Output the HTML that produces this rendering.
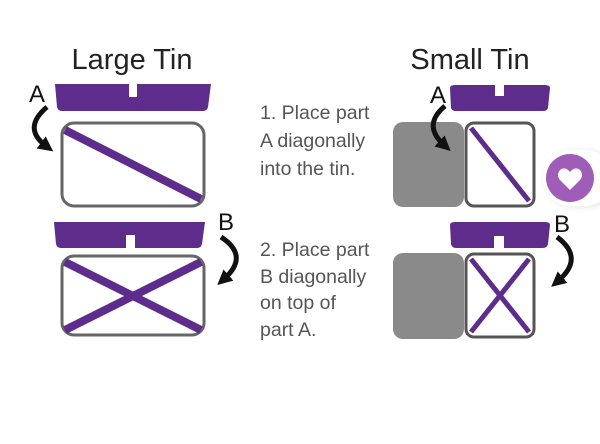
<!DOCTYPE html>
<html><head><style>
html,body{margin:0;padding:0;background:#fff;width:600px;height:444px;overflow:hidden}
</style></head><body>
<svg width="600" height="444" viewBox="0 0 600 444" xmlns="http://www.w3.org/2000/svg" font-family="Liberation Sans, sans-serif">
<defs>
<marker id="ah" markerWidth="3" markerHeight="3" refX="1.2" refY="1.5" orient="auto" markerUnits="strokeWidth">
<path d="M0,0 L3,1.5 L0,3 Z" fill="#111"/></marker>
<filter id="sh" x="-50%" y="-50%" width="200%" height="200%"><feGaussianBlur stdDeviation="4"/></filter>
</defs>
<rect width="600" height="444" fill="#fff"/>
<text x="132" y="69" font-size="29" text-anchor="middle" fill="#222">Large Tin</text>
<text x="470" y="69" font-size="29" text-anchor="middle" fill="#222">Small Tin</text>

<path d="M55,84 L129,84 L129,97 L137,97 L137,84 L211,84 L208,107 Q207,111 203,111 L62,111 Q58,111 57,107 Z" fill="#5e2d8c"/>
<rect x="62" y="123" width="142" height="83" rx="12" fill="#fff" stroke="#666" stroke-width="3"/>
<line x1="65" y1="130" x2="201" y2="199" stroke="#5e2d8c" stroke-width="8"/>
<text x="29" y="102" font-size="24" fill="#111">A</text>
<path d="M47,107 Q22,128 46,146" fill="none" stroke="#111" stroke-width="5" marker-end="url(#ah)"/>

<path d="M54,222 L205,222 L202,244 Q201,248 197,248 L135,248 L135,235 L126,235 L126,248 L61,248 Q57,248 56,244 Z" fill="#5e2d8c"/>
<rect x="62" y="256" width="142" height="79" rx="12" fill="#fff" stroke="#666" stroke-width="3"/>
<line x1="65" y1="262" x2="201" y2="330" stroke="#5e2d8c" stroke-width="8"/>
<line x1="201" y1="262" x2="65" y2="330" stroke="#5e2d8c" stroke-width="8"/>
<text x="218" y="230" font-size="24" fill="#111">B</text>
<path d="M221,237 Q250,256 224,279" fill="none" stroke="#111" stroke-width="5" marker-end="url(#ah)"/>

<g font-size="19.5" fill="#555">
<text x="260" y="119">1. Place part</text>
<text x="260" y="147">A diagonally</text>
<text x="260" y="175">into the tin.</text>
<text x="260" y="256">2. Place part</text>
<text x="260" y="283">B diagonally</text>
<text x="260" y="309">on top of</text>
<text x="260" y="336">part A.</text>
</g>

<path d="M450,88 Q450,85 455,85 L495,85 L495,96 L504,96 L504,85 L545,85 Q550,85 550,88 L548,108 Q547,111 543,111 L456,111 Q452,111 451,108 Z" fill="#5e2d8c"/>
<rect x="393" y="122" width="71" height="85" rx="10" fill="#8a8a8a"/>
<rect x="466" y="123" width="68" height="83" rx="8" fill="#fff" stroke="#555" stroke-width="3"/>
<line x1="471" y1="128" x2="529" y2="201" stroke="#5e2d8c" stroke-width="5"/>
<text x="430" y="103" font-size="24" fill="#111">A</text>
<path d="M445,106 Q422,125 444,145" fill="none" stroke="#111" stroke-width="5" marker-end="url(#ah)"/>

<path d="M450,225 Q450,222 455,222 L545,222 Q550,222 550,225 L548,244 Q547,248 543,248 L504,248 L504,236 L494,236 L494,248 L456,248 Q452,248 451,244 Z" fill="#5e2d8c"/>
<rect x="393" y="253" width="71" height="86" rx="10" fill="#8a8a8a"/>
<rect x="466" y="254" width="68" height="83" rx="8" fill="#fff" stroke="#555" stroke-width="3"/>
<line x1="471" y1="259" x2="529" y2="332" stroke="#5e2d8c" stroke-width="5"/>
<line x1="529" y1="259" x2="471" y2="332" stroke="#5e2d8c" stroke-width="5"/>
<text x="554" y="232" font-size="24" fill="#111">B</text>
<path d="M557,237 Q585,258 558,281" fill="none" stroke="#111" stroke-width="5" marker-end="url(#ah)"/>

<rect x="546" y="152" width="70" height="54" rx="27" fill="#000" opacity="0.12" filter="url(#sh)"/>
<rect x="543" y="150" width="70" height="56" rx="28" fill="#fff"/>
<circle cx="570" cy="178" r="24" fill="#a05db8"/>
<path d="M570,190 L560,180 Q556,175 560,170 Q565,166 570,172 Q575,166 580,170 Q584,175 580,180 Z" fill="#fff"/>
</svg>
</body></html>
